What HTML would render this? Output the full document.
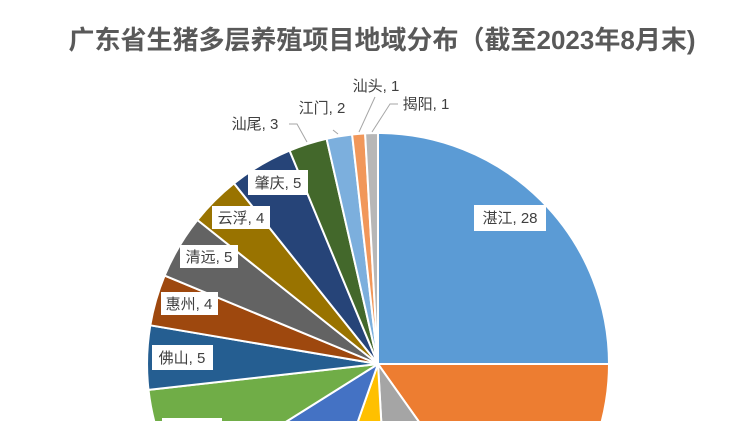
<!DOCTYPE html>
<html><head><meta charset="utf-8"><style>
html,body{margin:0;padding:0;background:#fff;width:750px;height:422px;overflow:hidden;}
svg{display:block;overflow:hidden}
text{font-family:"Liberation Sans","Noto Sans CJK SC",sans-serif;}
</style></head><body>
<svg width="750" height="422" viewBox="0 0 750 422" xmlns="http://www.w3.org/2000/svg">
<rect width="750" height="422" fill="#fff"/>
<text x="382" y="49" text-anchor="middle" font-size="26" font-weight="bold" fill="#595959">广东省生猪多层养殖项目地域分布（截至2023年8月末)</text>
<g stroke="#fff" stroke-width="2" stroke-linejoin="round">
<path d="M378,364 L378,133 A231,231 0 0 1 609,364 Z" fill="#5B9BD5"/>
<path d="M378,364 L609,364 A231,231 0 0 1 601.6,422 L419.1,422 Z" fill="#ED7D31"/>
<path d="M378,364 L419.1,422 L381.3,422 Z" fill="#A5A5A5"/>
<path d="M378,364 L381.3,422 L357.7,422 Z" fill="#FFC000"/>
<path d="M378,364 L357.7,422 L285.7,422 Z" fill="#4472C4"/>
<path d="M378,364 L285.7,422 L154.4,422 A231,231 0 0 1 148.5,389.9 Z" fill="#70AD47"/>
<path d="M378,364 L148.5,389.9 A231,231 0 0 1 150.3,325.3 Z" fill="#255E91"/>
<path d="M378,364 L150.3,325.3 A231,231 0 0 1 164.6,275.6 Z" fill="#9E480E"/>
<path d="M378,364 L164.6,275.6 A231,231 0 0 1 197.4,220 Z" fill="#636363"/>
<path d="M378,364 L197.4,220 A231,231 0 0 1 234,183.4 Z" fill="#997300"/>
<path d="M378,364 L234,183.4 A231,231 0 0 1 289.6,150.6 Z" fill="#264478"/>
<path d="M378,364 L289.6,150.6 A231,231 0 0 1 326.6,138.8 Z" fill="#43682B"/>
<path d="M378,364 L326.6,138.8 A231,231 0 0 1 352.1,134.5 Z" fill="#7CAFDD"/>
<path d="M378,364 L352.1,134.5 A231,231 0 0 1 365.1,133.4 Z" fill="#F1975A"/>
<path d="M378,364 L365.1,133.4 A231,231 0 0 1 378,133 Z" fill="#B7B7B7"/>
</g>
<g stroke="#A6A6A6" stroke-width="1" fill="none">
<polyline points="289,124 297,124 307,142"/>
<polyline points="333,130 338,134"/>
<polyline points="375,97 359,132"/>
<polyline points="398,104 390,104 372,132"/>
</g>
<g fill="#fff">
<rect x="474" y="205" width="72" height="26"/>
<rect x="248" y="170" width="60" height="25"/>
<rect x="212" y="206" width="58" height="23"/>
<rect x="180" y="245" width="58" height="23"/>
<rect x="161" y="292" width="57" height="23"/>
<rect x="152" y="345" width="61" height="25"/>
<rect x="162" y="418" width="60" height="4"/>
</g>
<g font-size="15" fill="#404040" text-anchor="middle">
<text x="510" y="223">湛江, 28</text>
<text x="278" y="188">肇庆, 5</text>
<text x="241" y="223">云浮, 4</text>
<text x="209" y="262">清远, 5</text>
<text x="189" y="309">惠州, 4</text>
<text x="182" y="363">佛山, 5</text>
<text x="255" y="129">汕尾, 3</text>
<text x="322" y="113">江门, 2</text>
<text x="376" y="91">汕头, 1</text>
<text x="426" y="109">揭阳, 1</text>
</g>
</svg>
</body></html>
